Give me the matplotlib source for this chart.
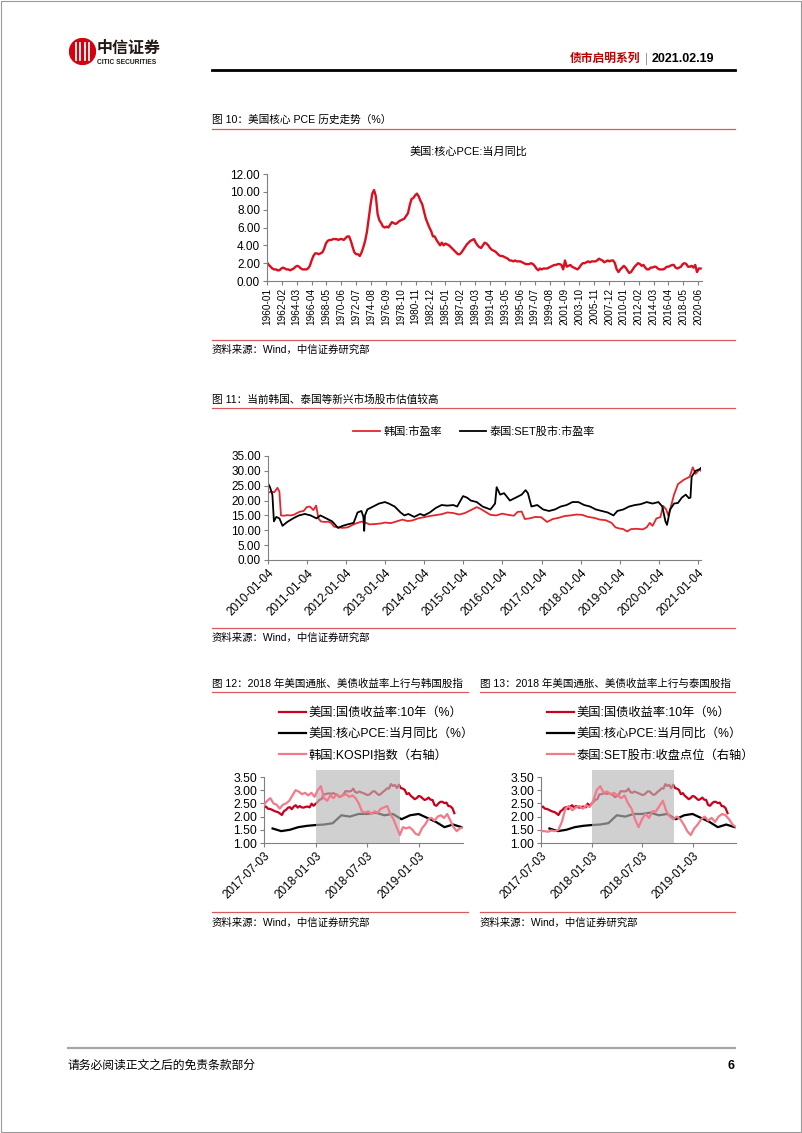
import numpy as np
import matplotlib
matplotlib.use('Agg')
import matplotlib.pyplot as plt
from matplotlib.lines import Line2D
from matplotlib.patches import Circle, Rectangle

plt.rcParams['font.family'] = ['Liberation Sans', 'Noto Sans CJK SC', 'DejaVu Sans']

# ---------------- data ----------------
# fig 10: US core PCE yoy, quarterly 1960-2020 (%)
pce_q = [
    2.1, 1.8, 1.6, 1.4,  1.3, 1.3, 1.2, 1.2,  1.4, 1.5, 1.4, 1.3,  1.3, 1.2, 1.3, 1.4,
    1.6, 1.7, 1.6, 1.4,  1.3, 1.3, 1.3, 1.4,  1.7, 2.3, 2.8, 3.1,  3.1, 3.0, 3.1, 3.2,
    3.6, 4.2, 4.5, 4.6,  4.6, 4.7, 4.7, 4.7,  4.6, 4.7, 4.7, 4.6,  4.8, 5.0, 5.0, 4.5,
    3.8, 3.2, 3.0, 3.0,  2.8, 3.2, 3.8, 4.5,  5.5, 7.0, 8.5, 9.8,  10.2, 9.5, 7.5, 6.8,
    6.5, 6.1, 6.0, 6.1,  6.0, 6.3, 6.6, 6.5,  6.4, 6.5, 6.7, 6.8,  6.9, 7.0, 7.3, 7.6,
    8.5, 9.2, 9.3, 9.6,  9.8, 9.5, 9.0, 8.6,  7.8, 7.0, 6.5, 6.0,  5.6, 5.0, 5.0, 4.6,
    4.3, 4.0, 4.3, 4.0,  4.2, 4.1, 4.0, 3.8,  3.6, 3.4, 3.2, 3.0,  3.0, 3.2, 3.5, 3.8,
    4.1, 4.3, 4.5, 4.6,  4.7, 4.3, 4.0, 3.8,  3.7, 4.0, 4.3, 4.2,  4.0, 3.7, 3.5, 3.4,
    3.3, 3.1, 2.9, 2.8,  2.8, 2.7, 2.6, 2.5,  2.3, 2.3, 2.2, 2.3,  2.2, 2.2, 2.2, 2.1,
    2.0, 1.9, 1.9, 1.9,  2.0, 1.9, 1.7, 1.4,  1.2, 1.4, 1.3, 1.4,  1.4, 1.4, 1.5, 1.6,
    1.7, 1.8, 1.8, 1.9,  1.9, 1.8, 1.3, 2.3,  1.6, 1.7, 1.8, 1.6,  1.5, 1.4, 1.3, 1.5,
    1.8, 2.0, 2.0, 2.1,  2.2, 2.1, 2.2, 2.2,  2.2, 2.3, 2.5, 2.4,  2.3, 2.1, 2.2, 2.3,
    2.2, 2.3, 2.3, 2.0,  1.3, 1.0, 1.3, 1.5,  1.7, 1.5, 1.2, 0.9,  1.0, 1.3, 1.6, 1.8,
    2.0, 1.9, 1.7, 1.8,  1.5, 1.3, 1.3, 1.5,  1.5, 1.6, 1.6, 1.4,  1.3, 1.3, 1.3, 1.4,
    1.6, 1.6, 1.7, 1.8,  1.8, 1.5, 1.4, 1.5,  1.6, 1.9, 2.0, 1.9,  1.6, 1.6, 1.7, 1.5,
    1.8, 1.0, 1.4, 1.4,
]
pce_t = 1960 + np.arange(len(pce_q)) * 0.25

# fig 11: PE ratios (decimal year, value)
kr_pe_t = [2010.00, 2010.08, 2010.17, 2010.25, 2010.30, 2010.34, 2010.42, 2010.50, 2010.58, 2010.67,
           2010.75, 2010.83, 2010.92, 2011.00, 2011.08, 2011.17, 2011.24, 2011.30, 2011.36, 2011.45,
           2011.55, 2011.62, 2011.70, 2011.80, 2011.92, 2012.05, 2012.17, 2012.28, 2012.40, 2012.50,
           2012.60, 2012.75, 2012.90, 2013.00, 2013.15, 2013.30, 2013.45, 2013.58, 2013.70, 2013.85,
           2014.00, 2014.15, 2014.30, 2014.45, 2014.60, 2014.75, 2014.90, 2015.05, 2015.20, 2015.35,
           2015.45, 2015.55, 2015.70, 2015.85, 2016.00, 2016.15, 2016.30, 2016.40, 2016.50, 2016.58,
           2016.70, 2016.85, 2017.00, 2017.15, 2017.30, 2017.45, 2017.60, 2017.75, 2017.90, 2018.05,
           2018.20, 2018.35, 2018.50, 2018.65, 2018.80, 2018.90, 2019.00, 2019.10, 2019.20, 2019.30,
           2019.45, 2019.60, 2019.70, 2019.78, 2019.85, 2019.95, 2020.05, 2020.12, 2020.20, 2020.25,
           2020.30, 2020.40, 2020.50, 2020.65, 2020.80, 2020.88, 2020.95, 2021.05, 2021.09]
kr_pe = [22.5, 23.0, 22.8, 24.3, 23.0, 15.0, 14.9, 15.1, 15.0, 15.2,
         15.8, 16.3, 16.5, 17.8, 18.0, 16.8, 18.3, 14.0, 13.0, 12.8,
         12.9, 12.5, 11.2, 11.0, 10.8, 11.0, 11.8, 12.4, 12.9, 12.6,
         12.0, 12.1, 12.3, 12.6, 12.4, 13.0, 13.6, 13.1, 13.3, 14.0,
         14.4, 14.8, 15.1, 15.4, 16.0, 15.8, 15.3, 15.8, 16.8, 17.8,
         17.2, 16.4, 15.2, 15.0, 15.6, 15.2, 14.9, 16.2, 16.3, 13.8,
         14.0, 14.5, 14.4, 12.8, 13.8, 14.2, 14.8, 15.0, 15.3, 15.2,
         14.5, 14.2, 13.6, 13.4, 12.5, 11.0, 10.6, 10.4, 9.6, 10.4,
         10.5, 10.3, 11.0, 12.5, 11.5, 14.0, 14.4, 18.2, 17.0, 15.0,
         17.0, 22.0, 25.5, 27.0, 28.0, 31.2, 29.0, 30.5, 30.0]

th_pe_t = [2010.00, 2010.06, 2010.12, 2010.16, 2010.22, 2010.30, 2010.38, 2010.50, 2010.65, 2010.80,
           2010.95, 2011.10, 2011.25, 2011.35, 2011.50, 2011.65, 2011.80, 2011.92, 2012.05, 2012.20,
           2012.30, 2012.40, 2012.45, 2012.47, 2012.49, 2012.55, 2012.70, 2012.85, 2013.00, 2013.10,
           2013.25, 2013.40, 2013.50, 2013.60, 2013.75, 2013.90, 2014.00, 2014.15, 2014.30, 2014.45,
           2014.60, 2014.75, 2014.85, 2015.00, 2015.10, 2015.20, 2015.35, 2015.50, 2015.70, 2015.82,
           2015.86, 2015.95, 2016.05, 2016.20, 2016.35, 2016.50, 2016.60, 2016.66, 2016.75, 2016.90,
           2017.05, 2017.20, 2017.35, 2017.50, 2017.65, 2017.80, 2017.95, 2018.10, 2018.25, 2018.40,
           2018.55, 2018.70, 2018.85, 2018.95, 2019.10, 2019.25, 2019.40, 2019.55, 2019.70, 2019.85,
           2020.00, 2020.10, 2020.18, 2020.22, 2020.30, 2020.40, 2020.50, 2020.60, 2020.70, 2020.78,
           2020.82, 2020.85, 2020.95, 2021.05, 2021.09]
th_pe = [26.0, 24.5, 22.0, 13.0, 14.5, 14.0, 11.5, 12.8, 14.0, 15.0,
         15.5, 15.0, 14.0, 15.0, 14.0, 13.0, 10.8, 11.5, 12.0, 12.5,
         16.0, 16.5, 14.5, 9.8, 15.0, 17.0, 18.0, 19.0, 19.5, 19.0,
         18.0, 16.0, 15.0, 15.5, 14.5, 15.5, 15.0, 16.0, 17.5, 18.5,
         18.3, 18.5, 18.0, 21.5, 21.0, 20.0, 19.5, 18.0, 17.0, 19.0,
         24.5, 22.0, 22.5, 20.0, 21.0, 22.0, 23.5, 22.5, 18.0, 18.5,
         17.0, 16.5, 17.0, 18.0, 18.5, 19.5, 19.5, 18.5, 18.0, 17.0,
         16.5, 16.0, 15.0, 16.5, 17.0, 18.0, 18.5, 18.8, 19.5, 19.0,
         19.5, 18.0, 13.0, 11.8, 17.0, 19.0, 19.2, 21.0, 22.0, 20.8,
         21.0, 28.0, 30.0, 30.5, 31.0]

# fig 12/13: weekly US 10y yield (%), 2017-07 .. 2019-06
ust10 = [2.35, 2.38, 2.30, 2.29, 2.26, 2.22, 2.19, 2.17, 2.12, 2.06, 2.20, 2.25, 2.33,
         2.36, 2.28, 2.38, 2.43, 2.34, 2.40, 2.35, 2.34, 2.37, 2.38, 2.35, 2.49, 2.41,
         2.48, 2.55, 2.64, 2.66, 2.84, 2.85, 2.87, 2.88, 2.86, 2.89, 2.85, 2.82, 2.74,
         2.77, 2.83, 2.96, 2.96, 2.95, 2.97, 3.06, 2.93, 2.90, 2.95, 2.92, 2.89, 2.86,
         2.82, 2.83, 2.89, 2.96, 2.95, 2.87, 2.82, 2.86, 2.94, 2.99, 3.07, 3.06, 3.23,
         3.16, 3.20, 3.08, 3.21, 3.08, 3.06, 3.01, 2.85, 2.89, 2.79, 2.73, 2.66, 2.70,
         2.78, 2.76, 2.69, 2.63, 2.66, 2.72, 2.64, 2.63, 2.44, 2.41, 2.50, 2.56, 2.56,
         2.51, 2.53, 2.40, 2.39, 2.32, 2.13]
ust_t = 2017.5 + np.arange(len(ust10)) / 52.0

# monthly core PCE yoy 2017-08 .. 2019-06 (%)
pce_m = [1.55, 1.45, 1.50, 1.60, 1.65, 1.68, 1.70, 1.75, 2.05, 2.00, 2.10, 2.10,
         2.15, 2.05, 2.10, 1.90, 2.05, 2.10, 1.95, 1.80, 1.60, 1.70, 1.60]
pce_m_t = 2017 + 7 / 12 + np.arange(len(pce_m)) / 12.0

# KOSPI index, about every 12 days
kospi = [2365, 2415, 2448, 2382, 2365, 2316, 2365, 2382, 2415, 2482, 2548, 2531,
         2498, 2515, 2482, 2515, 2465, 2548, 2598, 2448, 2415, 2482, 2448, 2498,
         2465, 2482, 2498, 2465, 2482, 2448, 2382, 2282, 2266, 2282, 2249, 2282,
         2266, 2316, 2332, 2349, 2249, 2183, 2083, 1984, 2083, 2067, 2083, 2050,
         2000, 1984, 2067, 2116, 2183, 2199, 2166, 2216, 2233, 2199, 2249, 2166,
         2083, 2033, 2067, 2083]
kospi_t = 2017.5 + np.arange(len(kospi)) * (1.93 / (len(kospi) - 1))

# SET index, about every 12 days
set_idx = [1574, 1574, 1570, 1578, 1574, 1582, 1630, 1710, 1726, 1700, 1718, 1726,
           1710, 1730, 1720, 1758, 1822, 1846, 1806, 1814, 1798, 1806, 1790, 1774,
           1790, 1742, 1710, 1646, 1598, 1646, 1678, 1654, 1694, 1694, 1726, 1758,
           1694, 1662, 1646, 1662, 1646, 1614, 1574, 1550, 1590, 1614, 1646, 1662,
           1638, 1654, 1630, 1662, 1678, 1670, 1646, 1614, 1598]
set_t = 2017.5 + np.arange(len(set_idx)) * (1.93 / (len(set_idx) - 1))

shade_span = (2018.0, 2018.82)

# ---------------- page ----------------
W, H = 802, 1133
fig = plt.figure(figsize=(W / 100, H / 100), dpi=100)


def fx(px):
    return px / W


def fy(py):
    return 1 - py / H


def hline(x0, x1, y, color, lw):
    fig.add_artist(Line2D([fx(x0), fx(x1)], [fy(y), fy(y)], transform=fig.transFigure,
                          color=color, lw=lw))


# page border
fig.add_artist(Rectangle((0.001, 0.001), 0.998, 0.998, transform=fig.transFigure,
                         fill=False, ec='#9a9a9a', lw=0.8))

# logo
lax = fig.add_axes([fx(69), fy(65), fx(27), 27 / H])
lax.set_xlim(0, 1)
lax.set_ylim(0, 1)
lax.axis('off')
lax.add_patch(Circle((0.5, 0.5), 0.48, color='#D7000F'))
for xx in [0.27, 0.42, 0.58, 0.73]:
    lax.plot([xx, xx], [0.2, 0.8], color='white', lw=1.3)
fig.text(fx(97), fy(48), '中信证券', fontsize=11.5, fontweight='bold', color='#231815',
         va='center', family=['Noto Sans CJK SC'])
fig.text(fx(97), fy(62), 'CITIC SECURITIES', fontsize=4.8, fontweight='bold', color='#231815',
         va='center')

fig.text(fx(640), fy(59), '债市启明系列', fontsize=8.5, fontweight='bold', color='#C00000',
         ha='right', va='center')
fig.text(fx(646), fy(59), '|', fontsize=8.5, color='#999999', ha='center', va='center')
fig.text(fx(652), fy(59), '2021.02.19', fontsize=9, fontweight='bold', color='black',
         ha='left', va='center')
hline(212, 735, 70, 'black', 2.0)

red_rule = '#D9595D'
tick_color = '#808080'


def style_axes(ax, fs=8.5):
    for s in ['top', 'right']:
        ax.spines[s].set_visible(False)
    for s in ['left', 'bottom']:
        ax.spines[s].set_color(tick_color)
        ax.spines[s].set_linewidth(0.8)
    ax.tick_params(axis='both', colors=tick_color, labelcolor='black', labelsize=fs,
                   length=3, width=0.8, pad=2)


# ---------------- fig 10 ----------------
fig.text(fx(212), fy(120), '图 10：美国核心 PCE 历史走势（%）', fontsize=7.7, va='center')
hline(212, 735, 129, red_rule, 0.9)
fig.text(fx(468), fy(152), '美国:核心PCE:当月同比', fontsize=8, ha='center', va='center')

ax1 = fig.add_axes([fx(267), fy(281), fx(702) - fx(267), (281 - 174) / H])
ax1.plot(pce_t, pce_q, color='#DA1020', lw=1.7)
ax1.set_xlim(1960, 2020.95)
ax1.set_ylim(0, 12)
ax1.set_yticks(np.arange(0, 12.1, 2))
ax1.set_yticklabels(['%.2f' % v for v in np.arange(0, 12.1, 2)])
xt = [1960 + k * 25 / 12 for k in range(30)]
ax1.set_xticks(xt)
style_axes(ax1)
ax1.set_xticklabels(['%d-%02d' % (1960 + (k * 25) // 12, (k * 25) % 12 + 1) for k in range(30)],
                    rotation=90, fontsize=7.2)

fig.text(fx(212), fy(350), '资料来源：Wind，中信证券研究部', fontsize=7.5, va='center')
hline(212, 735, 340, red_rule, 0.9)

# ---------------- fig 11 ----------------
fig.text(fx(212), fy(400), '图 11：当前韩国、泰国等新兴市场股市估值较高', fontsize=7.7, va='center')
hline(212, 735, 408, red_rule, 0.9)

ax2 = fig.add_axes([fx(268), fy(560), fx(701) - fx(268), (560 - 456) / H])
ax2.plot(kr_pe_t, kr_pe, color='#E3262D', lw=1.3, label='韩国:市盈率')
ax2.plot(th_pe_t, th_pe, color='black', lw=1.3, label='泰国:SET股市:市盈率')
ax2.set_xlim(2010 + 3 / 365, 2021.09)
ax2.set_ylim(0, 35)
ax2.set_yticks(np.arange(0, 35.1, 5))
ax2.set_yticklabels(['%.2f' % v for v in np.arange(0, 35.1, 5)])
ax2.set_xticks([y + 3 / 365 for y in range(2010, 2022)])
style_axes(ax2)
ax2.set_xticklabels(['%d-01-04' % y for y in range(2010, 2022)], rotation=45, ha='right',
                    rotation_mode='anchor', fontsize=8.5)
ax2.legend(loc='center', bbox_to_anchor=(fx(474), fy(432)), bbox_transform=fig.transFigure,
           ncol=2, frameon=False, fontsize=8, handlelength=2.4, columnspacing=1.6,
           handletextpad=0.3)

fig.text(fx(212), fy(638), '资料来源：Wind，中信证券研究部', fontsize=7.5, va='center')
hline(212, 735, 628, red_rule, 0.9)


# ---------------- fig 12 / 13 ----------------
def small_chart(x0, x1, ax_l, ax_r, num, name, idx_t, idx_v, idx_lim, idx_label):
    fig.text(fx(x0), fy(684), '图 %d：2018 年美国通胀、美债收益率上行与%s' % (num, name),
             fontsize=7.6, va='center')
    hline(x0, x1, 692, red_rule, 0.9)
    ax = fig.add_axes([fx(ax_l), fy(843), fx(ax_r) - fx(ax_l), (843 - 777) / H])
    ax.plot(ust_t, ust10, color='#C8001E', lw=1.6, label='美国:国债收益率:10年（%）')
    ax.plot(pce_m_t, pce_m, color='black', lw=1.6, label='美国:核心PCE:当月同比（%）')
    tw = ax.twinx()
    tw.plot(idx_t, idx_v, color='#F27A8A', lw=1.6, label=idx_label)
    tw.set_ylim(*idx_lim)
    tw.axis('off')
    tw.axvspan(*shade_span, ymin=0, ymax=1.1, color='#B8B8B8', alpha=0.65, lw=0,
               clip_on=False)
    ax.set_xlim(2017.5, 2019.43)
    ax.set_ylim(1.0, 3.5)
    ax.set_yticks(np.arange(1.0, 3.51, 0.5))
    ax.set_yticklabels(['%.2f' % v for v in np.arange(1.0, 3.51, 0.5)])
    ax.set_xticks([2017.5, 2018.0, 2018.5, 2019.0])
    style_axes(ax, fs=8.8)
    ax.set_xticklabels(['2017-07-03', '2018-01-03', '2018-07-03', '2019-01-03'], rotation=45,
                       ha='right', rotation_mode='anchor', fontsize=8.5)
    h1, l1 = ax.get_legend_handles_labels()
    h2, l2 = tw.get_legend_handles_labels()
    ax.legend(h1 + h2, l1 + l2, loc='upper left', bbox_to_anchor=(fx(x0 + 67), fy(707)),
              bbox_transform=fig.transFigure, frameon=False, fontsize=8.8, handlelength=2.2,
              handletextpad=0.2, labelspacing=0.75, borderaxespad=0, borderpad=0)
    fig.text(fx(x0), fy(923), '资料来源：Wind，中信证券研究部', fontsize=7.5, va='center')
    hline(x0, x1, 912, red_rule, 0.9)


small_chart(212, 468, 264, 463, 12, '韩国股指', kospi_t, kospi, (1884, 2714), '韩国:KOSPI指数（右轴）')
small_chart(480, 735, 541, 736, 13, '泰国股指', set_t, set_idx, (1502, 1902), '泰国:SET股市:收盘点位（右轴）')

# ---------------- footer ----------------
hline(68, 735, 1048, '#A6A6A6', 1.6)
fig.text(fx(68), fy(1066), '请务必阅读正文之后的免责条款部分', fontsize=8.5, va='center')
fig.text(fx(735), fy(1066), '6', fontsize=9, fontweight='bold', ha='right', va='center')

fig.savefig('out.png', dpi=100)
